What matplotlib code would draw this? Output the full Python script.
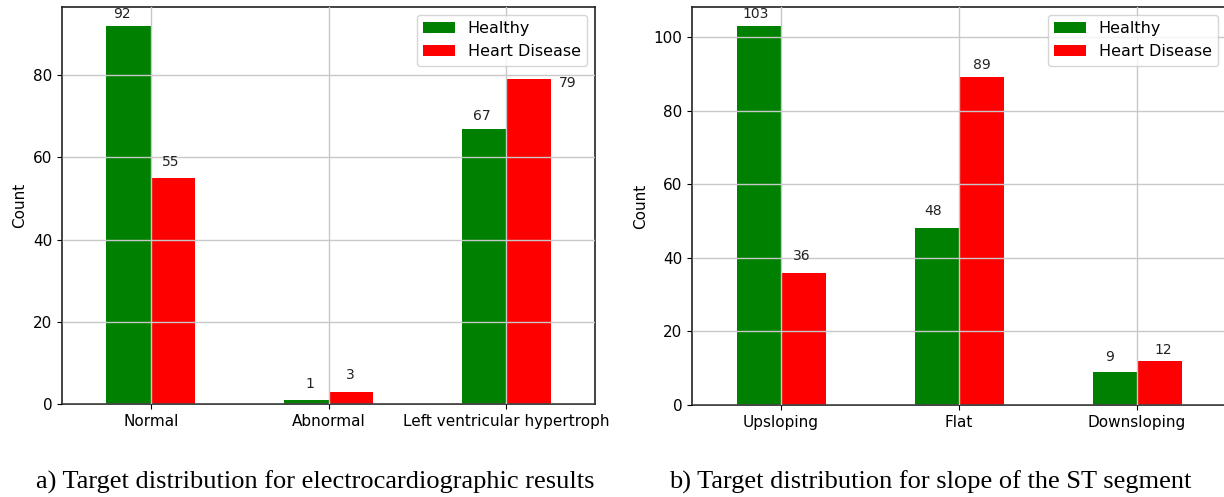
import matplotlib
matplotlib.use("Agg")
import matplotlib.pyplot as plt
import numpy as np

# ---- data ----
ecg_categories = ["Normal", "Abnormal", "Left ventricular hypertroph"]
ecg_healthy = [92, 1, 67]
ecg_disease = [55, 3, 79]

slope_categories = ["Upsloping", "Flat", "Downsloping"]
slope_healthy = [103, 48, 9]
slope_disease = [36, 89, 12]

series_names = ["Healthy", "Heart Disease"]
series_colors = ["green", "red"]

captions = ["a) Target distribution for electrocardiographic results",
            "b) Target distribution for slope of the ST segment"]

# label offsets (pixels) relative to bar top-centre, to mimic the original
ecg_label_dx = [[-7, 4, -2], [-2, 0, 39]]
ecg_label_dy = [[5, 9, 6], [9, 10, -11]]
slope_label_dx = [[-3, -4, -5], [-2, 1, 4]]
slope_label_dy = [[5, 10, 8], [10, 5, 4]]

plt.rcParams["font.family"] = ["DejaVu Sans"]

fig = plt.figure(figsize=(12.24, 4.97), dpi=100)
axL = fig.add_axes([62 / 1224, 1 - 404 / 497, 533 / 1224, 397 / 497])
axR = fig.add_axes([692 / 1224, 1 - 405 / 497, 534 / 1224, 398 / 497])


def draw(ax, cats, h, d, dxs, dys):
    x = np.arange(len(cats))
    w = 0.25
    b1 = ax.bar(x - w / 2, h, w, color=series_colors[0], label=series_names[0])
    b2 = ax.bar(x + w / 2, d, w, color=series_colors[1], label=series_names[1])
    ax.set_xlim(-0.5, len(cats) - 0.5)
    ax.margins(y=0.05)
    ax.set_xticks(x)
    ax.set_xticklabels(cats, fontsize=11)
    ax.tick_params(axis="y", labelsize=11)
    ax.set_ylabel("Count", fontsize=11)
    ax.grid(True, color="#c8c8c8", linewidth=1.0)
    ax.set_axisbelow(False)
    for s in ax.spines.values():
        s.set_linewidth(1.2)
        s.set_color("#222222")
    for si, bars in enumerate([b1, b2]):
        for bi, p in enumerate(bars):
            ax.annotate(str(int(p.get_height())),
                        (p.get_x() + p.get_width() / 2, p.get_height()),
                        xytext=(dxs[si][bi], dys[si][bi]), textcoords="offset pixels",
                        ha="center", va="bottom", fontsize=10, color="#222222")
    ax.legend(loc="upper right", fontsize=11.5, borderpad=0.4, handlelength=2.0,
              fancybox=True, framealpha=0.8)


draw(axL, ecg_categories, ecg_healthy, ecg_disease, ecg_label_dx, ecg_label_dy)
draw(axR, slope_categories, slope_healthy, slope_disease, slope_label_dx, slope_label_dy)

fig.text(315 / 1224, 1 - 482 / 497, captions[0], ha="center", va="center",
         fontsize=19, family="Liberation Serif")
fig.text(930 / 1224, 1 - 482 / 497, captions[1], ha="center", va="center",
         fontsize=19, family="Liberation Serif")

fig.savefig("out.png", dpi=100)
